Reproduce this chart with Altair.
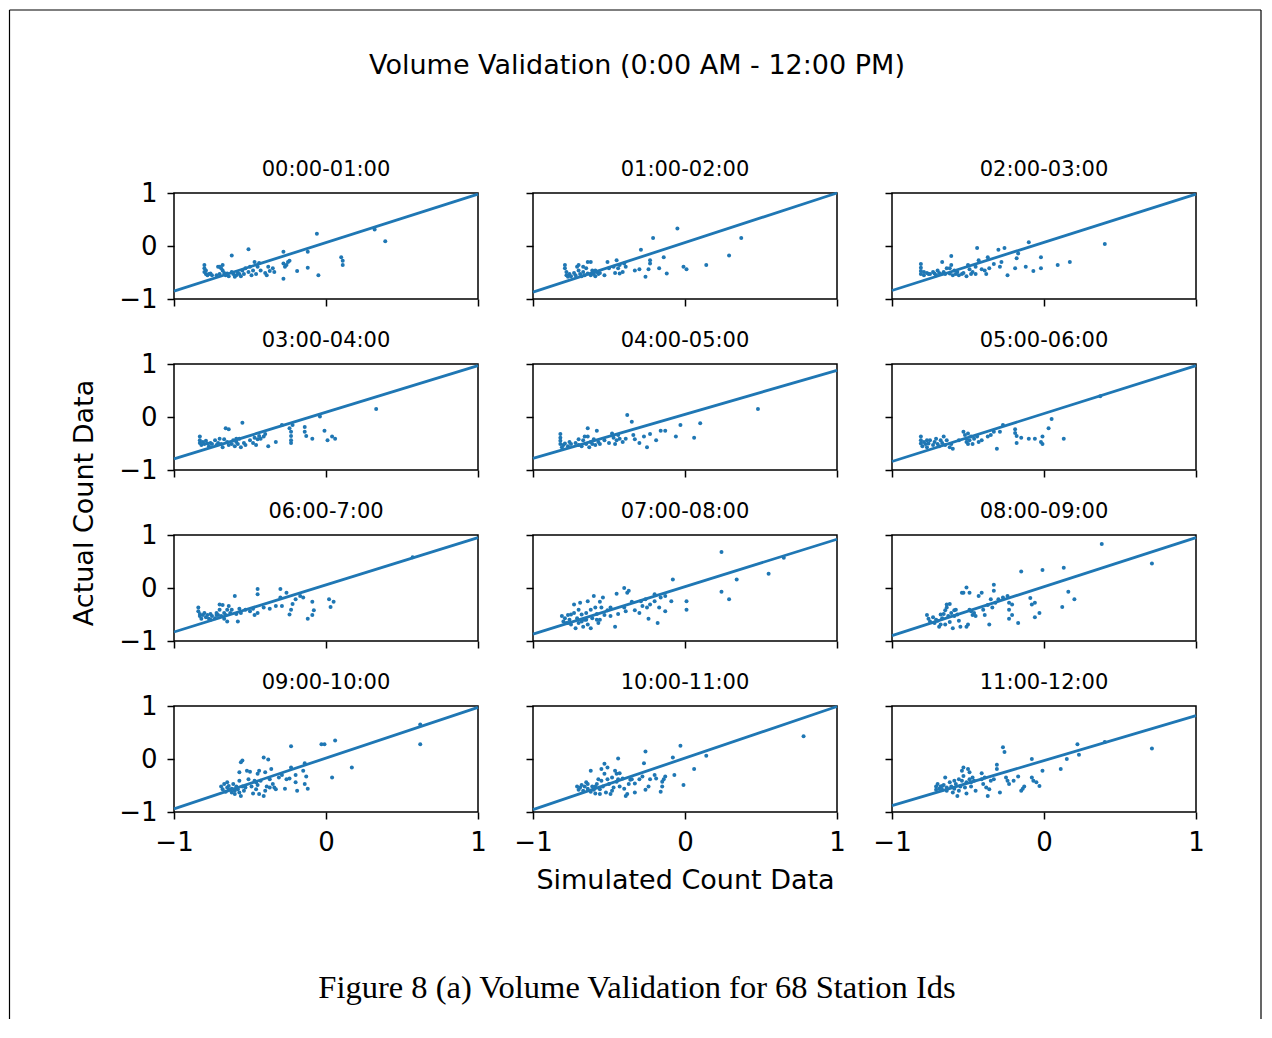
import altair as alt
import pandas as pd

MAIN_TITLE = "Volume Validation (0:00 AM - 12:00 PM)"
X_TITLE = "Simulated Count Data"
Y_TITLE = "Actual Count Data"
CAPTION = "Figure 8 (a) Volume Validation for 68 Station Ids"

PANEL_TITLES = ["00:00-01:00", "01:00-02:00", "02:00-03:00",
                "03:00-04:00", "04:00-05:00", "05:00-06:00",
                "06:00-7:00", "07:00-08:00", "08:00-09:00",
                "09:00-10:00", "10:00-11:00", "11:00-12:00"]

TICKS = [-1, 0, 1]

# fitted line: actual value at simulated = -1 and at simulated = +1
LINE_AT_MINUS1 = [-0.85, -0.87, -0.84, -0.79, -0.78, -0.84, -0.83, -0.87, -0.90, -0.94, -0.955, -0.88]
LINE_AT_PLUS1 = [0.98, 1.00, 0.98, 0.97, 0.88, 0.97, 0.95, 0.92, 0.95, 0.975, 0.99, 0.82]

# (simulated, actual) pairs per hour
P01 = [(-0.80,-0.36),(-0.80,-0.42),(-0.80,-0.49),(-0.79,-0.53),(-0.79,-0.46),(-0.78,-0.55),(-0.77,-0.53),(-0.76,-0.52),(-0.75,-0.55),(-0.72,-0.55),(-0.70,-0.53),(-0.71,-0.39),(-0.69,-0.42),(-0.68,-0.46),(-0.67,-0.51),(-0.66,-0.55),(-0.65,-0.52),(-0.64,-0.57),(-0.62,-0.49),(-0.61,-0.53),(-0.60,-0.58),(-0.59,-0.55),(-0.58,-0.51),(-0.57,-0.53),(-0.56,-0.57),(-0.55,-0.46),(-0.54,-0.53),(-0.53,-0.42),(-0.51,-0.49),(-0.50,-0.39),(-0.49,-0.55),(-0.48,-0.46),(-0.47,-0.30),(-0.46,-0.53),(-0.45,-0.39),(-0.44,-0.32),(-0.43,-0.46),(-0.40,-0.51),(-0.39,-0.55),(-0.38,-0.39),(-0.37,-0.47),(-0.35,-0.42),(-0.34,-0.49),(-0.28,-0.11),(-0.28,-0.33),(-0.27,-0.39),(-0.26,-0.36),(-0.25,-0.30),(-0.24,-0.28),(-0.28,-0.62),(-0.19,-0.47),(-0.12,-0.11),(-0.12,-0.41),(-0.06,0.23),(-0.05,-0.55),(0.10,-0.21),(0.11,-0.28),(0.11,-0.36),(0.32,0.31),(0.39,0.09),(-0.62,-0.18),(-0.51,-0.06),(-0.70,-0.39),(-0.68,-0.36)]
P02 = [(-0.79,-0.36),(-0.79,-0.42),(-0.78,-0.49),(-0.78,-0.55),(-0.77,-0.58),(-0.76,-0.53),(-0.75,-0.57),(-0.73,-0.51),(-0.72,-0.55),(-0.71,-0.39),(-0.70,-0.36),(-0.70,-0.46),(-0.69,-0.53),(-0.68,-0.57),(-0.67,-0.49),(-0.66,-0.55),(-0.65,-0.42),(-0.64,-0.30),(-0.62,-0.30),(-0.62,-0.55),(-0.61,-0.46),(-0.60,-0.53),(-0.59,-0.57),(-0.58,-0.49),(-0.57,-0.53),(-0.53,-0.55),(-0.51,-0.30),(-0.50,-0.42),(-0.46,-0.51),(-0.45,-0.27),(-0.44,-0.42),(-0.43,-0.36),(-0.41,-0.49),(-0.40,-0.33),(-0.39,-0.39),(-0.33,-0.46),(-0.30,-0.44),(-0.29,-0.07),(-0.26,-0.58),(-0.24,-0.44),(-0.23,-0.27),(-0.21,0.15),(-0.17,-0.42),(-0.14,-0.21),(-0.12,-0.52),(-0.05,0.33),(-0.01,-0.39),(0.01,-0.44),(0.14,-0.36),(0.29,-0.18),(0.37,0.15),(-0.59,-0.46),(-0.56,-0.51),(-0.47,-0.39),(-0.43,-0.52),(-0.23,-0.33),(-0.64,-0.52),(-0.67,-0.39)]
P03 = [(-0.81,-0.34),(-0.81,-0.41),(-0.81,-0.47),(-0.81,-0.53),(-0.79,-0.49),(-0.79,-0.55),(-0.77,-0.51),(-0.76,-0.53),(-0.75,-0.53),(-0.73,-0.49),(-0.72,-0.52),(-0.71,-0.55),(-0.70,-0.46),(-0.69,-0.51),(-0.68,-0.53),(-0.67,-0.30),(-0.66,-0.49),(-0.65,-0.53),(-0.64,-0.42),(-0.62,-0.52),(-0.61,-0.19),(-0.61,-0.36),(-0.60,-0.55),(-0.59,-0.46),(-0.58,-0.53),(-0.57,-0.49),(-0.56,-0.55),(-0.54,-0.53),(-0.51,-0.57),(-0.50,-0.36),(-0.49,-0.44),(-0.47,-0.49),(-0.45,-0.53),(-0.45,-0.39),(-0.44,-0.04),(-0.43,-0.27),(-0.41,-0.44),(-0.39,-0.46),(-0.38,-0.53),(-0.37,-0.21),(-0.36,-0.42),(-0.33,-0.34),(-0.30,-0.07),(-0.29,-0.39),(-0.28,-0.30),(-0.26,-0.04),(-0.24,-0.55),(-0.19,-0.42),(-0.18,-0.23),(-0.17,-0.14),(-0.12,-0.39),(-0.10,0.07),(-0.07,-0.47),(-0.02,-0.21),(-0.02,-0.42),(0.09,-0.36),(0.17,-0.30),(0.40,0.04),(-0.53,-0.51),(-0.48,-0.53),(-0.62,-0.42)]
P04 = [(-0.83,-0.37),(-0.83,-0.44),(-0.83,-0.49),(-0.82,-0.53),(-0.81,-0.47),(-0.80,-0.51),(-0.79,-0.45),(-0.78,-0.50),(-0.77,-0.55),(-0.76,-0.49),(-0.75,-0.51),(-0.73,-0.44),(-0.72,-0.53),(-0.71,-0.49),(-0.70,-0.41),(-0.69,-0.51),(-0.68,-0.57),(-0.67,-0.42),(-0.66,-0.21),(-0.65,-0.47),(-0.64,-0.23),(-0.62,-0.51),(-0.61,-0.44),(-0.60,-0.55),(-0.59,-0.47),(-0.58,-0.51),(-0.57,-0.41),(-0.56,-0.57),(-0.55,-0.11),(-0.54,-0.49),(-0.53,-0.53),(-0.50,-0.44),(-0.48,-0.49),(-0.47,-0.39),(-0.46,-0.53),(-0.45,-0.42),(-0.44,-0.36),(-0.43,-0.41),(-0.41,-0.37),(-0.40,-0.32),(-0.38,-0.55),(-0.33,-0.47),(-0.29,-0.15),(-0.24,-0.21),(-0.23,-0.28),(-0.23,-0.36),(-0.23,-0.44),(-0.23,-0.49),(-0.22,-0.15),(-0.14,-0.19),(-0.14,-0.28),(-0.13,-0.36),(-0.09,-0.41),(-0.04,0.01),(-0.01,-0.26),(0.01,-0.44),(0.04,-0.37),(0.06,-0.41),(0.33,0.15),(-0.64,-0.53),(-0.59,-0.41)]
P05 = [(-0.82,-0.32),(-0.82,-0.39),(-0.82,-0.45),(-0.82,-0.51),(-0.81,-0.57),(-0.80,-0.53),(-0.79,-0.50),(-0.77,-0.55),(-0.75,-0.51),(-0.72,-0.49),(-0.70,-0.53),(-0.68,-0.55),(-0.67,-0.44),(-0.66,-0.37),(-0.65,-0.51),(-0.64,-0.21),(-0.63,-0.57),(-0.62,-0.47),(-0.61,-0.51),(-0.60,-0.42),(-0.59,-0.53),(-0.58,-0.26),(-0.57,-0.47),(-0.56,-0.51),(-0.53,-0.44),(-0.50,-0.49),(-0.48,-0.31),(-0.47,-0.39),(-0.46,-0.51),(-0.45,-0.44),(-0.44,-0.34),(-0.43,-0.41),(-0.41,-0.47),(-0.39,-0.41),(-0.38,0.04),(-0.35,-0.09),(-0.34,-0.34),(-0.33,-0.42),(-0.30,-0.49),(-0.27,-0.37),(-0.25,-0.57),(-0.23,-0.32),(-0.19,-0.44),(-0.16,-0.26),(-0.13,-0.26),(-0.06,-0.37),(-0.03,-0.15),(0.06,-0.39),(0.10,-0.12),(0.48,0.15),(-0.64,-0.37),(-0.70,-0.42),(-0.76,-0.47)]
P06 = [(-0.81,-0.37),(-0.81,-0.44),(-0.81,-0.50),(-0.80,-0.55),(-0.79,-0.47),(-0.78,-0.51),(-0.77,-0.57),(-0.76,-0.50),(-0.75,-0.44),(-0.73,-0.53),(-0.72,-0.47),(-0.71,-0.41),(-0.70,-0.51),(-0.69,-0.55),(-0.68,-0.44),(-0.67,-0.49),(-0.66,-0.37),(-0.65,-0.53),(-0.64,-0.44),(-0.62,-0.57),(-0.61,-0.51),(-0.60,-0.60),(-0.53,-0.28),(-0.52,-0.34),(-0.51,-0.41),(-0.51,-0.47),(-0.50,-0.31),(-0.49,-0.44),(-0.48,-0.37),(-0.47,-0.51),(-0.46,-0.41),(-0.44,-0.37),(-0.43,-0.47),(-0.41,-0.44),(-0.37,-0.37),(-0.35,-0.34),(-0.33,-0.28),(-0.31,-0.60),(-0.29,-0.28),(-0.27,-0.15),(-0.19,-0.23),(-0.19,-0.30),(-0.18,-0.36),(-0.18,-0.49),(-0.15,-0.39),(-0.10,-0.41),(-0.06,-0.41),(-0.02,-0.47),(-0.01,-0.51),(-0.01,-0.37),(0.03,-0.21),(0.05,-0.04),(0.13,-0.41),(0.37,0.39),(-0.50,-0.51),(-0.56,-0.44),(-0.77,-0.44)]
P07 = [(-0.84,-0.37),(-0.84,-0.44),(-0.83,-0.49),(-0.83,-0.53),(-0.82,-0.58),(-0.81,-0.51),(-0.80,-0.47),(-0.79,-0.55),(-0.78,-0.51),(-0.77,-0.58),(-0.76,-0.49),(-0.75,-0.53),(-0.73,-0.57),(-0.72,-0.47),(-0.71,-0.51),(-0.70,-0.31),(-0.70,-0.41),(-0.69,-0.53),(-0.68,-0.32),(-0.67,-0.47),(-0.67,-0.58),(-0.66,-0.51),(-0.65,-0.63),(-0.65,-0.41),(-0.64,-0.34),(-0.63,-0.47),(-0.62,-0.41),(-0.60,-0.15),(-0.58,-0.63),(-0.57,-0.39),(-0.56,-0.47),(-0.53,-0.41),(-0.50,-0.44),(-0.48,-0.39),(-0.47,-0.51),(-0.45,-0.02),(-0.45,-0.12),(-0.45,-0.47),(-0.41,-0.37),(-0.37,-0.39),(-0.33,-0.34),(-0.30,-0.02),(-0.30,-0.18),(-0.29,-0.34),(-0.26,-0.09),(-0.24,-0.50),(-0.23,-0.41),(-0.22,-0.30),(-0.20,-0.21),(-0.17,-0.15),(-0.15,-0.18),(-0.12,-0.58),(-0.09,-0.51),(-0.08,-0.42),(-0.09,-0.26),(0.02,-0.21),(0.03,-0.36),(0.05,-0.26),(0.57,0.58),(-0.72,-0.51),(-0.76,-0.60),(-0.59,-0.49)]
P08 = [(-0.81,-0.53),(-0.80,-0.63),(-0.79,-0.57),(-0.78,-0.66),(-0.77,-0.51),(-0.76,-0.60),(-0.75,-0.69),(-0.73,-0.31),(-0.73,-0.47),(-0.72,-0.76),(-0.71,-0.57),(-0.70,-0.41),(-0.70,-0.66),(-0.69,-0.28),(-0.68,-0.50),(-0.67,-0.73),(-0.66,-0.60),(-0.65,-0.47),(-0.64,-0.25),(-0.64,-0.69),(-0.62,-0.41),(-0.62,-0.76),(-0.61,-0.57),(-0.60,-0.15),(-0.59,-0.37),(-0.58,-0.49),(-0.57,-0.66),(-0.56,-0.60),(-0.56,-0.26),(-0.55,-0.37),(-0.54,-0.18),(-0.53,-0.51),(-0.51,-0.42),(-0.49,-0.53),(-0.46,-0.73),(-0.45,-0.11),(-0.44,-0.49),(-0.40,-0.37),(-0.40,0.00),(-0.38,-0.09),(-0.37,-0.05),(-0.39,-0.44),(-0.35,-0.26),(-0.33,-0.42),(-0.30,-0.47),(-0.28,-0.34),(-0.26,-0.21),(-0.25,-0.37),(-0.24,-0.58),(-0.23,-0.31),(-0.20,-0.12),(-0.20,-0.25),(-0.18,-0.66),(-0.17,-0.37),(-0.16,-0.18),(-0.13,-0.44),(-0.13,-0.15),(-0.09,-0.25),(-0.08,0.16),(0.01,-0.25),(0.01,-0.41),(0.24,0.68),(0.24,-0.07),(0.29,-0.21),(0.34,0.16),(0.55,0.27),(0.65,0.57),(-0.75,-0.50),(-0.68,-0.63),(-0.58,-0.60),(-0.49,-0.37),(-0.65,-0.60),(-0.77,-0.66),(-0.29,-0.25)]
P09 = [(-0.77,-0.51),(-0.76,-0.58),(-0.75,-0.63),(-0.73,-0.55),(-0.72,-0.66),(-0.70,-0.62),(-0.69,-0.73),(-0.68,-0.69),(-0.67,-0.57),(-0.66,-0.49),(-0.65,-0.42),(-0.64,-0.37),(-0.64,-0.31),(-0.63,-0.53),(-0.62,-0.64),(-0.62,-0.30),(-0.61,-0.47),(-0.60,-0.76),(-0.59,-0.53),(-0.58,-0.41),(-0.57,-0.50),(-0.56,-0.62),(-0.55,-0.73),(-0.54,-0.09),(-0.53,-0.09),(-0.51,-0.73),(-0.51,0.01),(-0.50,-0.69),(-0.49,-0.41),(-0.49,-0.09),(-0.47,-0.51),(-0.46,-0.47),(-0.45,-0.53),(-0.43,-0.15),(-0.41,-0.09),(-0.40,-0.41),(-0.39,-0.51),(-0.37,-0.32),(-0.36,-0.69),(-0.35,-0.21),(-0.34,-0.37),(-0.33,0.06),(-0.33,-0.05),(-0.32,-0.28),(-0.30,-0.21),(-0.27,-0.18),(-0.24,-0.15),(-0.23,-0.28),(-0.23,-0.41),(-0.23,-0.58),(-0.21,-0.31),(-0.21,-0.51),(-0.17,-0.66),(-0.15,0.31),(-0.09,-0.19),(-0.08,-0.31),(-0.06,-0.28),(-0.06,-0.55),(-0.03,-0.47),(-0.01,0.34),(0.12,-0.36),(0.13,0.38),(0.16,-0.07),(0.20,-0.21),(0.38,0.83),(0.71,0.46),(-0.59,-0.42),(-0.71,-0.60),(-0.48,-0.44),(-0.68,-0.50),(-0.65,-0.69)]
P10 = [(-0.69,-0.52),(-0.68,-0.57),(-0.67,-0.47),(-0.66,-0.62),(-0.65,-0.54),(-0.65,-0.44),(-0.64,-0.58),(-0.64,-0.51),(-0.62,-0.63),(-0.62,-0.56),(-0.61,-0.47),(-0.60,-0.60),(-0.60,-0.66),(-0.59,-0.52),(-0.58,-0.57),(-0.57,-0.41),(-0.57,-0.63),(-0.56,-0.06),(-0.56,-0.70),(-0.55,-0.03),(-0.55,-0.52),(-0.57,-0.25),(-0.54,-0.60),(-0.52,-0.22),(-0.51,-0.38),(-0.50,-0.24),(-0.49,-0.52),(-0.48,-0.65),(-0.47,-0.41),(-0.46,-0.57),(-0.45,-0.28),(-0.45,-0.49),(-0.44,-0.22),(-0.44,-0.66),(-0.43,-0.41),(-0.41,-0.70),(-0.41,0.03),(-0.40,-0.60),(-0.40,-0.25),(-0.39,-0.52),(-0.38,-0.01),(-0.37,-0.38),(-0.36,-0.19),(-0.35,-0.47),(-0.34,-0.54),(-0.33,-0.57),(-0.31,-0.35),(-0.29,-0.30),(-0.27,-0.56),(-0.26,-0.38),(-0.24,-0.37),(-0.23,0.24),(-0.23,-0.16),(-0.20,-0.30),(-0.20,-0.44),(-0.19,-0.60),(-0.15,-0.22),(-0.14,-0.47),(-0.14,-0.08),(-0.13,-0.33),(-0.12,-0.56),(-0.03,0.28),(-0.01,0.28),(0.04,-0.35),(0.06,0.35),(0.17,-0.16),(0.62,0.65),(0.62,0.28),(-0.46,-0.44),(-0.53,-0.54),(-0.37,-0.54)]
P11 = [(-0.71,-0.52),(-0.70,-0.58),(-0.69,-0.54),(-0.68,-0.49),(-0.67,-0.60),(-0.66,-0.52),(-0.65,-0.44),(-0.64,-0.56),(-0.62,-0.22),(-0.62,-0.62),(-0.61,-0.52),(-0.60,-0.58),(-0.59,-0.65),(-0.58,-0.47),(-0.57,-0.38),(-0.56,-0.57),(-0.56,-0.66),(-0.55,-0.19),(-0.55,-0.41),(-0.54,-0.52),(-0.53,-0.09),(-0.53,-0.28),(-0.52,-0.63),(-0.51,-0.38),(-0.51,-0.16),(-0.50,-0.47),(-0.49,-0.66),(-0.48,-0.35),(-0.47,-0.54),(-0.46,-0.22),(-0.45,-0.43),(-0.45,-0.28),(-0.44,-0.38),(-0.44,0.01),(-0.43,-0.52),(-0.43,-0.27),(-0.41,-0.37),(-0.40,-0.56),(-0.39,-0.70),(-0.38,-0.66),(-0.37,-0.47),(-0.36,-0.39),(-0.35,-0.38),(-0.33,-0.63),(-0.33,-0.46),(-0.30,-0.38),(-0.28,-0.33),(-0.27,-0.08),(-0.26,-0.58),(-0.26,0.14),(-0.24,-0.52),(-0.23,-0.38),(-0.20,-0.30),(-0.19,-0.37),(-0.16,-0.62),(-0.15,-0.52),(-0.15,-0.43),(-0.14,-0.38),(-0.13,-0.33),(-0.08,0.03),(-0.07,-0.30),(-0.03,0.25),(-0.01,-0.49),(0.06,-0.19),(0.14,0.06),(0.78,0.43),(-0.59,-0.52),(-0.64,-0.47),(-0.48,-0.60)]
P12 = [(-0.71,-0.52),(-0.71,-0.58),(-0.70,-0.47),(-0.69,-0.56),(-0.68,-0.52),(-0.67,-0.58),(-0.66,-0.49),(-0.65,-0.35),(-0.64,-0.54),(-0.64,-0.60),(-0.62,-0.44),(-0.61,-0.52),(-0.60,-0.63),(-0.59,-0.56),(-0.58,-0.47),(-0.57,-0.70),(-0.56,-0.60),(-0.56,-0.38),(-0.55,-0.52),(-0.54,-0.41),(-0.54,-0.22),(-0.53,-0.16),(-0.53,-0.32),(-0.52,-0.54),(-0.51,-0.65),(-0.51,-0.44),(-0.50,-0.19),(-0.49,-0.25),(-0.49,-0.38),(-0.48,-0.52),(-0.47,-0.35),(-0.46,-0.41),(-0.45,-0.60),(-0.41,-0.27),(-0.41,-0.38),(-0.40,-0.47),(-0.39,-0.35),(-0.38,-0.54),(-0.37,-0.70),(-0.36,-0.57),(-0.35,-0.41),(-0.33,-0.38),(-0.31,-0.11),(-0.31,-0.19),(-0.29,-0.63),(-0.27,0.22),(-0.26,0.13),(-0.25,-0.35),(-0.24,-0.41),(-0.23,-0.47),(-0.20,-0.41),(-0.17,-0.33),(-0.15,-0.60),(-0.14,-0.56),(-0.13,-0.52),(-0.08,0.00),(-0.08,-0.35),(-0.07,-0.41),(-0.05,-0.44),(-0.03,-0.51),(-0.01,-0.22),(0.11,-0.19),(0.15,0.00),(0.22,0.28),(0.23,0.08),(0.40,0.32),(0.71,0.20),(-0.59,-0.41),(-0.48,-0.44),(-0.67,-0.51)]

PANELS = [P01, P02, P03, P04, P05, P06, P07, P08, P09, P10, P11, P12]

BLUE = "#1f77b4"
FONT = "DejaVu Sans"
SERIF = "Liberation Serif"
PW, PH = 304, 106
COL_GAP, ROW_GAP = 55, 65

# page-furniture offsets measured from the top-left corner of the first panel
ORIGIN_X, ORIGIN_Y = 174, 192
PAGE_L = 8 - ORIGIN_X + 1.5
PAGE_T = 8 - ORIGIN_Y + 1
PAGE_R = 1261 - ORIGIN_X
PAGE_B = 1018 - ORIGIN_Y
PAGE_CX = 637 - ORIGIN_X

LABEL_EXPR = "datum.value < 0 ? '\u2212' + abs(datum.value) : '' + datum.value"


def text_layer(txt, x, y, font=FONT, size=27, angle=0):
    kw = dict(font=font, fontSize=size, color="black", baseline="middle", align="center")
    if angle:
        kw["angle"] = angle
    return alt.Chart(pd.DataFrame({"t": [txt]})).mark_text(**kw).encode(
        text="t:N", x=alt.value(x), y=alt.value(y))


def rule_layer(x, y, x2=None, y2=None):
    enc = dict(x=alt.value(x), y=alt.value(y))
    if x2 is not None:
        enc["x2"] = alt.value(x2)
    if y2 is not None:
        enc["y2"] = alt.value(y2)
    return alt.Chart(pd.DataFrame({"d": [0]})).mark_rule(color="black", strokeWidth=1.2).encode(**enc)


def panel(i):
    row, col = divmod(i, 3)
    pts = pd.DataFrame(PANELS[i], columns=["sim", "act"])
    line = pd.DataFrame({"sim": [-1, 1], "act": [LINE_AT_MINUS1[i], LINE_AT_PLUS1[i]]})
    xaxis_kw = dict(values=TICKS, labels=(row == 3), labelFlush=False, labelOverlap=False,
                    labelExpr=LABEL_EXPR)
    if row == 3 and col == 1:
        xaxis_kw["title"] = X_TITLE
    else:
        xaxis_kw["title"] = None
    xenc = alt.X("sim:Q", scale=alt.Scale(domain=[-1, 1], nice=False, zero=False),
                 axis=alt.Axis(**xaxis_kw))
    yenc = alt.Y("act:Q", scale=alt.Scale(domain=[-1, 1], nice=False, zero=False),
                 axis=alt.Axis(values=TICKS, labels=(col == 0), labelFlush=False,
                               labelOverlap=False, labelExpr=LABEL_EXPR, title=None))
    dots = alt.Chart(pts).mark_circle(size=16, color=BLUE, opacity=1).encode(x=xenc, y=yenc)
    fit = alt.Chart(line).mark_line(color=BLUE, strokeWidth=2.8).encode(x="sim:Q", y="act:Q")
    layers = [dots, fit, text_layer(PANEL_TITLES[i], PW / 2, -23, size=21)]
    if i == 0:
        layers += [
            text_layer(MAIN_TITLE, PAGE_CX, 65 - ORIGIN_Y),
            text_layer(Y_TITLE, 85 - ORIGIN_X, 502 - ORIGIN_Y, angle=270),
            text_layer(CAPTION, PAGE_CX, 987 - ORIGIN_Y, font=SERIF, size=32.5),
            rule_layer(PAGE_L, PAGE_T, x2=PAGE_R),
            rule_layer(PAGE_L, PAGE_T, y2=PAGE_B),
            rule_layer(PAGE_R, PAGE_T, y2=PAGE_B),
        ]
    return alt.layer(*layers).properties(width=PW, height=PH)


chart = alt.concat(*[panel(i) for i in range(12)], columns=3,
                   spacing={"row": ROW_GAP, "column": COL_GAP}, bounds="flush").properties(
    padding=0, background="white"
).configure_view(stroke="black", strokeWidth=1.5).configure_axis(
    labelFont=FONT, labelFontSize=26, labelColor="black", labelPadding=10,
    tickColor="black", tickWidth=1.5, tickSize=7, grid=False, domain=False,
    titleFont=FONT, titleFontSize=27, titleFontWeight="normal", titleColor="black",
    titlePadding=12,
)

chart.save("out.html", embed_options={"renderer": "svg", "actions": False})
